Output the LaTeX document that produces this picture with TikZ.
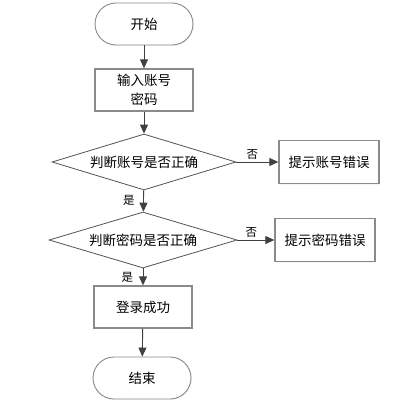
\documentclass[tikz,border=0pt]{standalone}
\usepackage{fontspec}
\setmainfont{Noto Sans CJK SC}
\usepackage{tikz}
\usetikzlibrary{arrows.meta,positioning,shapes.geometric,shadows}
\definecolor{edgegrey}{HTML}{8A8A8A}
\definecolor{flowgrey}{HTML}{404040}

\begin{document}
\begin{tikzpicture}[
  x=1pt, y=-1pt,
  font=\fontsize{13.5}{19}\selectfont,
  term/.style={rectangle, rounded corners=21pt, draw=edgegrey, line width=0.9pt,
               minimum width=98pt, minimum height=42pt, fill=white,
               drop shadow={shadow xshift=1pt, shadow yshift=-1pt, fill=black!8}},
  proc/.style={rectangle, draw=edgegrey, line width=1.3pt,
               minimum width=98pt, minimum height=42pt, fill=white, align=center,
               drop shadow={shadow xshift=1.2pt, shadow yshift=-1.2pt, fill=black!8}},
  deci/.style={diamond, draw=flowgrey!90, line width=0.8pt, aspect=3.2, inner sep=0pt,
               minimum width=184pt, minimum height=56pt, fill=white},
  flow/.style={-{Triangle[length=9pt, width=8pt]}, line width=0.9pt, flowgrey},
  yn/.style={font=\fontsize{11.5}{13}\selectfont, text=black},
]
\useasboundingbox (0,0) rectangle (398,410);

% ---------- main column
\node[term] (start) at (144,24) {开始};
\node[proc] (input) at (144,90) {输入账号\\密码};
\node[deci] (chkacc) at (144,162) {判断账号是否正确};
\node[deci, minimum width=188pt] (chkpwd) at (143,240) {判断密码是否正确};
\node[proc] (ok) at (143,307) {登录成功};
\node[term] (stop) at (142,378) {结束};

% ---------- error branches
\node[proc, minimum width=100pt, minimum height=43pt] (erracc) at (329,162) {提示账号错误};
\node[proc, minimum width=100pt, minimum height=43pt] (errpwd) at (325,240) {提示密码错误};

% ---------- connectors
\draw[flow] (start) -- (input);
\draw[flow] (input) -- (chkacc);
\draw[flow] (chkacc) -- node[yn, pos=0.45, left=5pt] {是} (chkpwd);
\draw[flow] (chkpwd.south) -- node[yn, pos=0.55, left=6pt] {是} (ok.north -| chkpwd.south);
\draw[flow] (ok) -- (stop);
\draw[flow] (chkacc.east) -- node[yn, pos=0.38, above=-1pt] {否} (erracc.west);
\draw[flow] (chkpwd.east) -- node[yn, pos=0.38, above=-1pt] {否} (errpwd.west);
\end{tikzpicture}
\end{document}
